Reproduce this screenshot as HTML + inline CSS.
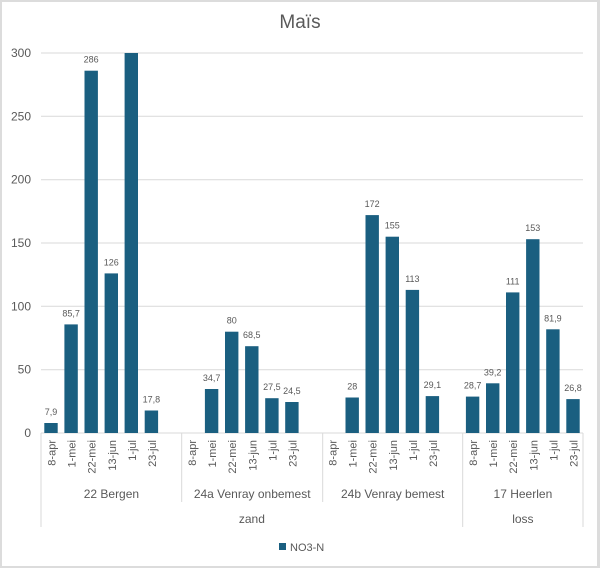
<!DOCTYPE html>
<html><head><meta charset="utf-8"><style>
html,body{margin:0;padding:0;background:#fff;}
svg{display:block;}
text{font-family:"Liberation Sans",Arial,sans-serif;fill:#595959;}
</style></head><body>
<svg width="600" height="568" viewBox="0 0 600 568" xmlns="http://www.w3.org/2000/svg">
<rect x="0" y="0" width="600" height="568" fill="#dcdcdc"/>
<rect x="2" y="2" width="595" height="564" fill="#ffffff"/>
<text x="300" y="28" font-size="19" text-anchor="middle">Maïs</text>
<g stroke="#d9d9d9" stroke-width="1">
<line x1="41" y1="53" x2="583" y2="53"/>
<line x1="41" y1="116.3" x2="583" y2="116.3"/>
<line x1="41" y1="179.7" x2="583" y2="179.7"/>
<line x1="41" y1="243" x2="583" y2="243"/>
<line x1="41" y1="306.3" x2="583" y2="306.3"/>
<line x1="41" y1="369.7" x2="583" y2="369.7"/>
<line x1="41" y1="433" x2="583" y2="433"/>
<line x1="41" y1="433" x2="41" y2="527"/>
<line x1="181.7" y1="433" x2="181.7" y2="502"/>
<line x1="322.7" y1="433" x2="322.7" y2="502"/>
<line x1="462.7" y1="433" x2="462.7" y2="527"/>
<line x1="583" y1="433" x2="583" y2="527"/>
</g>
<g font-size="12" text-anchor="end">
<text x="31" y="57">300</text>
<text x="31" y="120.3">250</text>
<text x="31" y="183.7">200</text>
<text x="31" y="247">150</text>
<text x="31" y="310.3">100</text>
<text x="31" y="373.7">50</text>
<text x="31" y="437">0</text>
</g>
<g fill="#1a5f80">
<rect x="44.3" y="423.0" width="13.4" height="10.0"/>
<rect x="64.4" y="324.4" width="13.4" height="108.6"/>
<rect x="84.5" y="70.7" width="13.4" height="362.3"/>
<rect x="104.6" y="273.4" width="13.4" height="159.6"/>
<rect x="124.6" y="53" width="13.4" height="380"/>
<rect x="144.7" y="410.5" width="13.4" height="22.5"/>
<rect x="204.9" y="389.0" width="13.4" height="44.0"/>
<rect x="225.0" y="331.7" width="13.4" height="101.3"/>
<rect x="245.1" y="346.2" width="13.4" height="86.8"/>
<rect x="265.2" y="398.2" width="13.4" height="34.8"/>
<rect x="285.2" y="402.0" width="13.4" height="31.0"/>
<rect x="345.5" y="397.5" width="13.4" height="35.5"/>
<rect x="365.5" y="215.1" width="13.4" height="217.9"/>
<rect x="385.6" y="236.7" width="13.4" height="196.3"/>
<rect x="405.7" y="289.9" width="13.4" height="143.1"/>
<rect x="425.7" y="396.1" width="13.4" height="36.9"/>
<rect x="465.9" y="396.6" width="13.4" height="36.4"/>
<rect x="486.0" y="383.3" width="13.4" height="49.7"/>
<rect x="506.0" y="292.4" width="13.4" height="140.6"/>
<rect x="526.1" y="239.2" width="13.4" height="193.8"/>
<rect x="546.2" y="329.3" width="13.4" height="103.7"/>
<rect x="566.3" y="399.1" width="13.4" height="33.9"/>
</g>
<g font-size="9" text-anchor="middle">
<text x="51.0" y="415.0">7,9</text>
<text x="71.1" y="316.4">85,7</text>
<text x="91.2" y="62.7">286</text>
<text x="111.3" y="265.4">126</text>
<text x="151.4" y="402.5">17,8</text>
<text x="211.6" y="381.0">34,7</text>
<text x="231.7" y="323.7">80</text>
<text x="251.8" y="338.2">68,5</text>
<text x="271.9" y="390.2">27,5</text>
<text x="291.9" y="394.0">24,5</text>
<text x="352.2" y="389.5">28</text>
<text x="372.2" y="207.1">172</text>
<text x="392.3" y="228.7">155</text>
<text x="412.4" y="281.9">113</text>
<text x="432.4" y="388.1">29,1</text>
<text x="472.6" y="388.6">28,7</text>
<text x="492.7" y="375.3">39,2</text>
<text x="512.7" y="284.4">111</text>
<text x="532.8" y="231.2">153</text>
<text x="552.9" y="321.3">81,9</text>
<text x="573.0" y="391.1">26,8</text>
</g>
<g font-size="11" text-anchor="end">
<text transform="translate(55.5,440) rotate(-90)">8-apr</text>
<text transform="translate(75.6,440) rotate(-90)">1-mei</text>
<text transform="translate(95.7,440) rotate(-90)">22-mei</text>
<text transform="translate(115.8,440) rotate(-90)">13-jun</text>
<text transform="translate(135.8,440) rotate(-90)">1-jul</text>
<text transform="translate(155.9,440) rotate(-90)">23-jul</text>
<text transform="translate(196.1,440) rotate(-90)">8-apr</text>
<text transform="translate(216.1,440) rotate(-90)">1-mei</text>
<text transform="translate(236.2,440) rotate(-90)">22-mei</text>
<text transform="translate(256.3,440) rotate(-90)">13-jun</text>
<text transform="translate(276.4,440) rotate(-90)">1-jul</text>
<text transform="translate(296.4,440) rotate(-90)">23-jul</text>
<text transform="translate(336.6,440) rotate(-90)">8-apr</text>
<text transform="translate(356.7,440) rotate(-90)">1-mei</text>
<text transform="translate(376.7,440) rotate(-90)">22-mei</text>
<text transform="translate(396.8,440) rotate(-90)">13-jun</text>
<text transform="translate(416.9,440) rotate(-90)">1-jul</text>
<text transform="translate(436.9,440) rotate(-90)">23-jul</text>
<text transform="translate(477.1,440) rotate(-90)">8-apr</text>
<text transform="translate(497.2,440) rotate(-90)">1-mei</text>
<text transform="translate(517.2,440) rotate(-90)">22-mei</text>
<text transform="translate(537.3,440) rotate(-90)">13-jun</text>
<text transform="translate(557.4,440) rotate(-90)">1-jul</text>
<text transform="translate(577.5,440) rotate(-90)">23-jul</text>
</g>
<g font-size="12" text-anchor="middle">
<text x="111.4" y="498">22 Bergen</text>
<text x="252.2" y="498">24a Venray onbemest</text>
<text x="392.7" y="498">24b Venray bemest</text>
<text x="522.9" y="498">17 Heerlen</text>
<text x="251.9" y="523">zand</text>
<text x="522.9" y="523">loss</text>
</g>
<rect x="279" y="543" width="7" height="7" fill="#1a5f80"/>
<text x="290" y="551" font-size="11">NO3-N</text>
</svg>
</body></html>
